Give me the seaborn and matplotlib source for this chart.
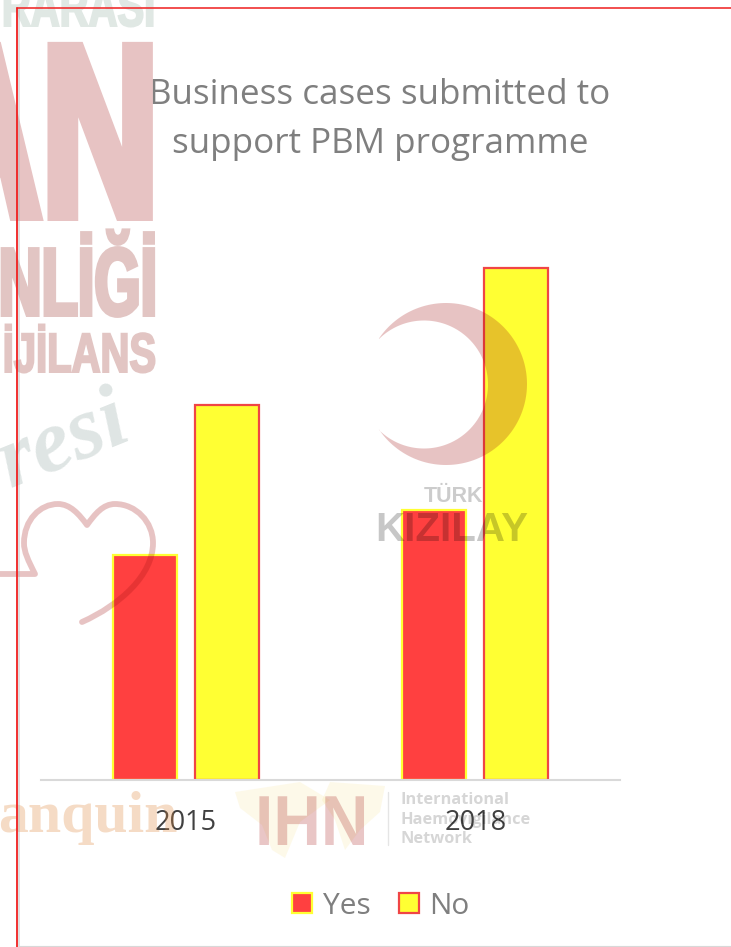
import numpy as np
import pandas as pd
import matplotlib
matplotlib.use('Agg')
import matplotlib.pyplot as plt
import matplotlib.patheffects as pe
from matplotlib.transforms import Affine2D
import seaborn as sns
from matplotlib.path import Path
from matplotlib.patches import PathPatch, Polygon

# datos (sin eje y, valores estimados)
years = ['2015', '2018']
yes_values = [30, 36]
no_values = [50, 68.3]
legend_labels = ['Yes', 'No']

RED = '#ff4040'
YELLOW = '#ffff33'
GREY = '#7f7f7f'
WM_RED = (163 / 255, 19 / 255, 19 / 255)


class Squeeze(pe.AbstractPathEffect):
    # angosta el texto en x y lo engorda un poco, las fuentes condensadas no estan instaladas
    def __init__(self, sx, x0, stroke=0):
        super().__init__()
        self.sx = sx
        self.x0 = x0
        self.stroke = stroke

    def draw_path(self, renderer, gc, tpath, affine, rgbFace=None):
        aff = affine + Affine2D().translate(-self.x0, 0).scale(self.sx, 1).translate(self.x0, 0)
        gc0 = renderer.new_gc()
        gc0.copy_properties(gc)
        if self.stroke:
            gc0.set_linewidth(self.stroke * 0.72)
            gc0.set_foreground(rgbFace)
            gc0.set_joinstyle('miter')
        renderer.draw_path(gc0, tpath, aff, rgbFace)
        gc0.restore()


sns.set_theme(style='white')
plt.rcParams['font.family'] = ['Open Sans', 'DejaVu Sans']

W, H = 731, 947
fig = plt.figure(figsize=(W / 100, H / 100), dpi=100)
ax = fig.add_axes([41 / W, 1 - 780 / H, 579 / W, 600 / H])

df = pd.DataFrame({
    'year': years + years,
    'answer': [legend_labels[0]] * 2 + [legend_labels[1]] * 2,
    'value': yes_values + no_values,
})
sns.barplot(data=df, x='year', y='value', hue='answer', hue_order=legend_labels,
            palette=[RED, YELLOW], width=0.566, gap=0.22, saturation=1, ax=ax)

# borde amarillo en las rojas y rojo en las amarillas
edges = [YELLOW, '#f04545']
for cont, edge in zip(ax.containers, edges):
    for bar in cont:
        bar.set_edgecolor(edge)
        bar.set_linewidth(1.6)

ax.set_ylim(0, 80)
ax.set_xlim(-0.5, 1.5)
ax.set_xlabel('')
ax.set_ylabel('')
ax.set_yticks([])
ax.tick_params(axis='x', length=0, labelsize=19.5, labelcolor='#404040', pad=21)
for side in ['top', 'left', 'right']:
    ax.spines[side].set_visible(False)
ax.spines['bottom'].set_color('#d9d9d9')
ax.spines['bottom'].set_linewidth(1.5)

leg = ax.legend(loc='center', bbox_to_anchor=(381 / W, 1 - 906 / H), bbox_transform=fig.transFigure,
                ncol=2, frameon=False, fontsize=21.5, labelcolor=GREY, handlelength=0.67,
                handleheight=0.67, handletextpad=0.35, columnspacing=0.95)
for handle, edge in zip(leg.legend_handles, edges):
    handle.set_edgecolor(edge)
    handle.set_linewidth(1.6)

fig.text(380 / W, 1 - 95 / H, 'Business cases submitted to', ha='center', va='center',
         fontsize=25.2, color=GREY)
fig.text(380 / W, 1 - 144 / H, 'support PBM programme', ha='center', va='center',
         fontsize=25.2, color=GREY)

# capa de marcas de agua en pixeles
wm = fig.add_axes([0, 0, 1, 1], facecolor='none', zorder=5)
wm.set_xlim(0, W)
wm.set_ylim(H, 0)
wm.axis('off')

bold_sans = dict(family='Liberation Sans', weight='bold', va='baseline')
wm.text(159, 216, 'AN', fontsize=177, ha='right', color='#e7c3c3', **bold_sans,
        path_effects=[Squeeze(0.66, 159, 10)])
wm.text(157, 315, 'NLİĞİ', fontsize=69, ha='right', color='#e2c5c3', **bold_sans,
        path_effects=[Squeeze(0.62, 157, 4)])
wm.text(156, 372, 'İJİLANS', fontsize=40, ha='right', color='#e2c5c3', **bold_sans,
        path_effects=[Squeeze(0.72, 156, 2)])
wm.text(155, 26, 'RARASI', fontsize=40, ha='right', color='#e0e8e4', **bold_sans,
        path_effects=[Squeeze(0.72, 155, 2)])
wm.text(10, 488, 'resi', family='Liberation Serif', style='italic', weight='bold', fontsize=64,
        rotation=22, rotation_mode='anchor', ha='left', va='baseline', color='#5f7f78', alpha=0.2)
wm.text(-2, 832, 'anquin', family='Liberation Serif', weight='bold', fontsize=43, ha='left',
        va='baseline', color='#e08a40', alpha=0.3)

# corazon
heart = Path(
    [(-2, 574), (35, 574),
     (28, 560), (24, 552), (24, 543),
     (24, 520), (40, 504), (58, 504),
     (70, 504), (79, 514), (87, 525),
     (95, 514), (103, 504), (115, 504),
     (136, 504), (153, 522), (153, 543),
     (153, 575), (120, 605), (82, 622)],
    [Path.MOVETO, Path.LINETO] + [Path.CURVE4] * 18)
wm.add_patch(PathPatch(heart, fill=False, edgecolor=WM_RED, alpha=0.25, lw=4.2,
                       capstyle='round', joinstyle='round'))

# media luna
cx1, cy1, r1 = 446, 384, 81
cx2, cy2, r2 = 424, 384.5, 64
d = cx1 - cx2
a = (r1 ** 2 - r2 ** 2 + d ** 2) / (2 * d)
ang1 = np.arccos(-a / r1)
ang2 = np.arccos((cx1 - a - cx2) / r2)
t1 = np.linspace(-ang1, ang1, 200)
t2 = np.linspace(ang2, -ang2, 200)
pts = np.vstack([np.c_[cx1 + r1 * np.cos(t1), cy1 + r1 * np.sin(t1)],
                 np.c_[cx2 + r2 * np.cos(t2), cy2 + r2 * np.sin(t2)]])
wm.add_patch(Polygon(pts, closed=True, facecolor=WM_RED, edgecolor='none', alpha=0.25))

wm.text(453, 502, 'TÜRK', family='Liberation Sans', weight='bold', fontsize=15.5, ha='center',
        va='baseline', color='black', alpha=0.2)
wm.text(451.5, 541, 'KIZILAY', family='Liberation Sans', weight='bold', fontsize=29, ha='center',
        va='baseline', color='black', alpha=0.22)

# mapa de fondo de IHN, muy tenue
for blob in [[(235, 792), (300, 782), (330, 800), (300, 822), (285, 858), (272, 850), (262, 825), (240, 808)],
             [(330, 782), (385, 786), (380, 812), (360, 830), (345, 850), (335, 820), (322, 800)]]:
    wm.add_patch(Polygon(blob, closed=True, facecolor='#f0c830', edgecolor='none', alpha=0.1))

wm.text(255, 845, 'IHN', family='Liberation Sans', weight='bold', fontsize=51, ha='left',
        va='baseline', color=WM_RED, alpha=0.24, path_effects=[Squeeze(0.93, 255)])
wm.plot([388, 388], [792, 845], color='black', alpha=0.1, lw=1)
for y, line in zip([800, 820, 839], ['International', 'Haemovigilance', 'Network']):
    wm.text(401, y, line, family='Open Sans', weight='bold', fontsize=11.8, ha='left', va='center',
            color='black', alpha=0.16)

# marco rojo de la diapositiva
wm.plot([19, 19], [9, H], color='#a8b4b4', alpha=0.45, lw=1.2, zorder=10)
wm.plot([17, W], [7.5, 7.5], color='#f03030', lw=1.2, zorder=10)
wm.plot([17, 17], [7.5, H], color='#f02020', lw=1.3, zorder=10)
wm.plot([19, W], [946, 946], color='#d8d8d8', lw=0.8, zorder=10)

plt.savefig('out.png', dpi=100)
